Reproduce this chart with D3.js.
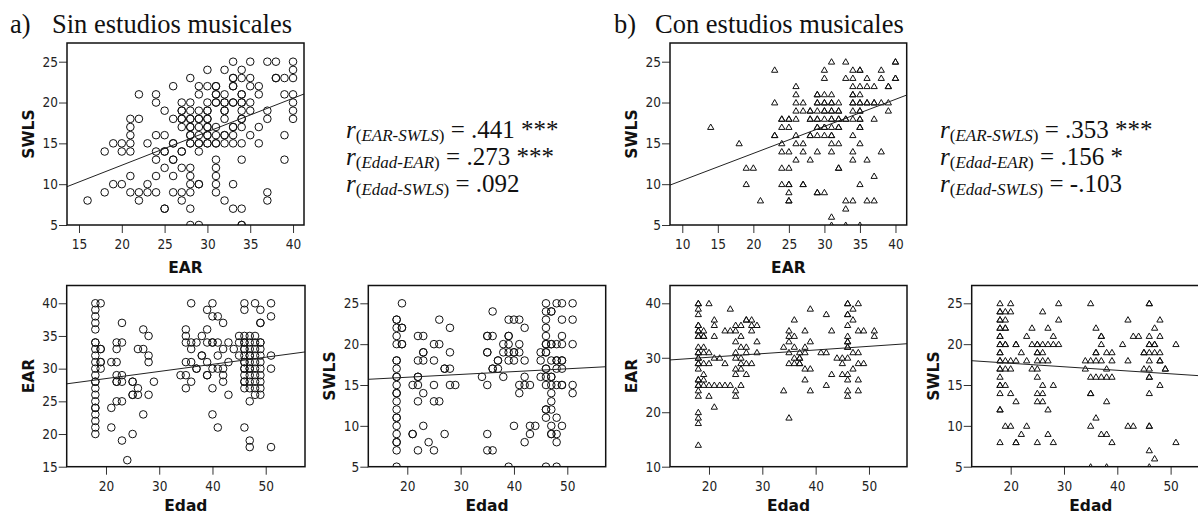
<!DOCTYPE html>
<html lang="es">
<head>
<meta charset="UTF-8">
<title>EAR, SWLS y Edad</title>
<script src="https://d3js.org/d3.v7.min.js"></script>
<style>
  body { margin: 0; background: #fff; }
  .tick text { font-family: "DejaVu Sans Condensed", "DejaVu Sans", sans-serif; font-size: 13.5px; fill: #222; }
  .tick line { stroke: #333; }
  .axlab { font-family: "DejaVu Sans", sans-serif; font-weight: bold; font-size: 15.5px; fill: #111; }
  .serif { font-family: "Liberation Serif", "Times New Roman", serif; fill: #111; }
</style>
</head>
<body>
<div id="chart"></div>
<script>
// puntos agrupados: [valor comun, [lista de valores]]  (repetidos = puntos superpuestos)
// a) Sin estudios: EAR (x) vs SWLS (y), por filas de SWLS
var sinEarSwls = [
  [25, [33,35,37,38,40]],
  [24, [30,32,34,40]],
  [23, [28,33,33,34,35,38,38,39,40]],
  [22, [26,29,30,31,31,33,33,35,36]],
  [21, [22,24,29,31,31,32,34,34,36,39,40]],
  [20, [24,27,28,30,31,31,32,32,33,33,34,34,35,40]],
  [19, [25,27,27,28,29,30,30,32,32,34,35,37,40]],
  [18, [21,22,26,27,27,28,28,29,29,30,30,32,34,34,37,40]],
  [17, [21,27,28,28,29,30,30,31,33,33,34,36]],
  [16, [21,24,25,28,28,29,30,30,31,32,32,33,35,39]],
  [15, [19,20,21,23,26,26,28,28,29,29,30,30,31,31,32,33,34,36]],
  [14, [18,20,21,24,25,25,27,27,29]],
  [13, [24,26,26,31,34,39]],
  [12, [25,27,28,31]],
  [11, [21,24,26,28,31]],
  [10, [19,20,23,28,29,29,31,33]],
  [9,  [18,21,22,23,24,26,27,28,31,37]],
  [8,  [16,22,27,32,37]],
  [7,  [25,25,28,33,34]],
  [5,  [28,29,34,34]]
];
// b) Con estudios: EAR (x) vs SWLS (y), por filas de SWLS
var conEarSwls = [
  [25, [31,33,40,40]],
  [24, [23,30,34,35,35,38]],
  [23, [30,33,34,36,38,40,40]],
  [22, [26,34,35,36,37,39,39]],
  [21, [26,29,29,30,31,34,34,35]],
  [20, [23,26,27,29,29,30,30,31,31,32,34,34,35,35,36,36,37,37,38,39]],
  [19, [26,27,28,28,29,30,30,31,31,32,32,34,35,35,39]],
  [18, [24,24,25,25,26,28,28,29,29,30,31,31,32,32,33,33,34,35,35,37]],
  [17, [14,24,25,29,29,30,30,31,32,32,35,35]],
  [16, [23,23,26,28,28,29,30,31,31,34]],
  [15, [18,24,26,27,31,32,35]],
  [14, [24,25,27,29,31,34,38]],
  [13, [26,28,34,36]],
  [12, [19,20,24,25,32,32]],
  [11, [37]],
  [10, [19,24,25,25,27,27,35]],
  [9,  [25,29,29,30]],
  [8,  [21,25,25,33,34,36,37]],
  [7,  [33]],
  [6,  [31]],
  [5,  [31,33,35]]
];
// Sin estudios: Edad (x) vs EAR (y), por columnas de Edad
var sinEdadEar = [
  [18, [40,39,38,37,36,34,34,33,32,31,30,29,28,28,27,26,25,24,24,23,22,21,20]],
  [19, [40,33,33,31,31,30]],
  [21, [31,24,21]],
  [22, [34,33,31,29,28,28,25]],
  [23, [37,34,29,28,25,19]],
  [24, [16]],
  [25, [28,28,26,26,20]],
  [26, [33,27,26]],
  [27, [36,33,23]],
  [28, [35,32,31,26]],
  [29, [28]],
  [34, [29]],
  [35, [36,35,34,31,29,27]],
  [36, [40,34,33,31,28]],
  [37, [34,30,30]],
  [38, [35,32,32]],
  [39, [39,36,34,31,29,29]],
  [40, [40,38,34,34,30,27,23]],
  [41, [38,34,32,30,21]],
  [42, [37,33,30,29,28]],
  [43, [34,31,26]],
  [44, [33]],
  [45, [35,34,32]],
  [46, [40,39,35,34,34,33,33,32,31,31,30,30,29,28,28,27,21]],
  [47, [35,34,33,32,32,31,30,30,29,28,27,25,19,18]],
  [48, [40,35,34,33,32,31,30,29,28,27,26]],
  [49, [39,37,37,34,34,33,32,31,30,29,28,27,26]],
  [51, [40,38,32,30,18]]
];
// Sin estudios: Edad (x) vs SWLS (y)
var sinEdadSwls = [
  [18, [23,23,22,21,20,18,18,17,16,16,15,14,14,13,12,11,11,10,9,8,8,7,5]],
  [19, [25,22,22,20,20]],
  [21, [15,9,9]],
  [22, [21,18,16,16,15,13,7]],
  [23, [21,19,19,18,14,10]],
  [24, [8]],
  [25, [20,18,15,13,7]],
  [26, [23,20,13]],
  [27, [17,17,9]],
  [28, [22,19,17,15]],
  [29, [15]],
  [34, [16]],
  [35, [21,21,19,19,15,9,7]],
  [36, [24,21,17,17,7]],
  [37, [18,18,17]],
  [38, [20,19,16]],
  [39, [23,21,21,20,19,18,5]],
  [40, [23,19,19,18,10]],
  [41, [23,20,19,15,14]],
  [42, [22,18,16,15,8]],
  [43, [15,10,9]],
  [44, [10]],
  [45, [19,18,16]],
  [46, [25,24,23,22,21,20,20,19,19,17,17,16,15,12,12,11,5]],
  [47, [24,24,20,20,18,16,16,15,14,13,12,10,9,9]],
  [48, [25,20,18,18,17,15,11,9,8,5]],
  [49, [25,23,21,20,18,18,17,15,15,10]],
  [51, [25,23,20,15,14]]
];
// Con estudios: Edad (x) vs EAR (y)
var conEdadEar = [
  [18, [40,40,39,38,36,36,35,35,34,34,32,31,31,30,30,29,29,28,26,26,25,25,24,23,20,19,18,14]],
  [19, [35,34,34,32,31,29,27,26,25]],
  [20, [40,31,29,25,23]],
  [21, [37,36,34,30,25,21]],
  [22, [30,25]],
  [23, [35,29,25]],
  [24, [39,35,25]],
  [25, [36,35,33,31,30,28,27,24,23]],
  [26, [36,34,32,30,29,28,25]],
  [27, [37,37,32,31,29,27]],
  [28, [37,36,35,29]],
  [29, [36,33,31]],
  [34, [32,24]],
  [35, [35,34,33,31,29,19]],
  [36, [37,34,32,30,29]],
  [37, [31,30,30,29,29]],
  [38, [35,32,31,28,26]],
  [39, [39,33,28,24]],
  [41, [31]],
  [42, [38,31,25]],
  [43, [35,27]],
  [44, [30]],
  [45, [30,29,27]],
  [46, [40,40,38,38,36,34,33,33,32,32,30,27,26,24,23]],
  [47, [39,37,31,28]],
  [48, [40,35,31,29,26,24]],
  [49, [35,29]],
  [51, [35,34]]
];
// Con estudios: Edad (x) vs SWLS (y)
var conEdadSwls = [
  [18, [25,24,24,23,23,22,22,21,21,20,20,19,19,18,18,17,17,16,15,15,14,12,12,8]],
  [19, [24,23,22,22,20,20,18,17,15,10]],
  [20, [25,24,18,17,14,10]],
  [21, [20,20,18,13,8,8]],
  [22, [19,9]],
  [23, [21,18,10]],
  [24, [22,20,17]],
  [25, [20,20,19,19,18,17,16,14,13,8]],
  [26, [24,20,19,18,15,14,13]],
  [27, [22,20,18,12,9]],
  [28, [21,20,15,8]],
  [29, [25,23,20]],
  [34, [18,17]],
  [35, [25,18,16,14,14,10,5]],
  [36, [22,19,19,18,16,11]],
  [37, [21,21,20,18,16,9]],
  [38, [19,17,16,13,9,5]],
  [39, [19,18,16,8]],
  [41, [20]],
  [42, [23,18,10]],
  [43, [21,10]],
  [44, [21]],
  [45, [19,19,17]],
  [46, [25,25,21,20,20,19,18,17,16,16,14,10,10,7,5]],
  [47, [22,20,20,19,6]],
  [48, [23,21,19,18,18,15]],
  [49, [17,17]],
  [51, [20,8]]
];

// rectas de regresion: [intercepto, pendiente]
var fitSinEarSwls = [4.12, 0.41];
var fitConEarSwls = [7.15, 0.331];
var fitSinEdadEar = [26.3, 0.109];
var fitSinEdadSwls = [15.26, 0.0345];
var fitConEdadEar = [28.75, 0.067];
var fitConEdadSwls = [18.52, -0.043];

var ticksEar15 = [15, 20, 25, 30, 35, 40];
var ticksEar10 = [10, 15, 20, 25, 30, 35, 40];
var ticksSwls = [5, 10, 15, 20, 25];
var ticksEdad = [20, 30, 40, 50];
var ticksEarSin = [15, 20, 25, 30, 35, 40];
var ticksEarCon = [10, 20, 30, 40];

var titles = [["a)", "Sin estudios musicales"], ["b)", "Con estudios musicales"]];
var corrSin = [["EAR-SWLS", ".441 ***"], ["Edad-EAR", ".273 ***"], ["Edad-SWLS", ".092"]];
var corrCon = [["EAR-SWLS", ".353 ***"], ["Edad-EAR", ".156 *"], ["Edad-SWLS", "-.103"]];

function byRow(rows) { // [y, [x...]]
  var out = [];
  rows.forEach(function(r) { r[1].forEach(function(v) { out.push([v, r[0]]); }); });
  return out;
}
function byCol(cols) { // [x, [y...]]
  var out = [];
  cols.forEach(function(c) { c[1].forEach(function(v) { out.push([c[0], v]); }); });
  return out;
}

var svg = d3.select("#chart").append("svg")
    .attr("width", 1198)
    .attr("height", 515);

svg.append("rect").attr("width", 1198).attr("height", 515).attr("fill", "#fff");

var panels = [
  {id: "a", pts: byRow(sinEarSwls), fit: fitSinEarSwls, mark: "circle",
   box: [67, 304, 43, 225], xd: [13.6, 41.28], yd: [5, 27.29],
   xt: ticksEar15, yt: ticksSwls, xl: "EAR", yl: "SWLS", xlY: 273},
  {id: "b", pts: byRow(conEarSwls), fit: fitConEarSwls, mark: "tri",
   box: [670, 906.7, 43, 225], xd: [8.27, 41.58], yd: [5, 27.29],
   xt: ticksEar10, yt: ticksSwls, xl: "EAR", yl: "SWLS", xlY: 273},
  {id: "c", pts: byCol(sinEdadEar), fit: fitSinEdadEar, mark: "circle",
   box: [66.7, 305, 285.5, 466.7], xd: [12.62, 57.38], yd: [15, 42.72],
   xt: ticksEdad, yt: ticksEarSin, xl: "Edad", yl: "EAR", xlY: 511},
  {id: "d", pts: byCol(sinEdadSwls), fit: fitSinEdadSwls, mark: "circle",
   box: [368.3, 605.7, 285.5, 466.7], xd: [12.69, 57.2], yd: [5, 27.18],
   xt: ticksEdad, yt: ticksSwls, xl: "Edad", yl: "SWLS", xlY: 511},
  {id: "e", pts: byCol(conEdadEar), fit: fitConEdadEar, mark: "tri",
   box: [670, 907, 285.5, 466.7], xd: [12.69, 57.13], yd: [10, 43.27],
   xt: ticksEdad, yt: ticksEarCon, xl: "Edad", yl: "EAR", xlY: 511},
  {id: "f", pts: byCol(conEdadSwls), fit: fitConEdadSwls, mark: "tri",
   box: [971.7, 1209, 285.5, 466.7], xd: [12.69, 57.2], yd: [5, 27.18],
   xt: ticksEdad, yt: ticksSwls, xl: "Edad", yl: "SWLS", xlY: 511}
];

var tri = d3.symbol().type(d3.symbolTriangle).size(17);

panels.forEach(function(p) {
  var L = p.box[0], R = p.box[1], T = p.box[2], B = p.box[3];
  var x = d3.scaleLinear().domain(p.xd).range([L, R]);
  var y = d3.scaleLinear().domain(p.yd).range([B, T]);

  svg.append("clipPath").attr("id", "clip-" + p.id)
    .append("rect").attr("x", L).attr("y", T).attr("width", R - L).attr("height", B - T);

  var g = svg.append("g").attr("clip-path", "url(#clip-" + p.id + ")");

  if (p.mark === "circle") {
    g.selectAll("circle").data(p.pts).enter().append("circle")
      .attr("cx", function(d) { return x(d[0]); })
      .attr("cy", function(d) { return y(d[1]); })
      .attr("r", 3.8)
      .attr("fill", "none")
      .attr("stroke", "#111")
      .attr("stroke-width", 1);
  } else {
    g.selectAll("path.pt").data(p.pts).enter().append("path")
      .attr("class", "pt")
      .attr("d", tri)
      .attr("transform", function(d) { return "translate(" + x(d[0]) + "," + (y(d[1]) + 0.6) + ")"; })
      .attr("fill", "none")
      .attr("stroke", "#111")
      .attr("stroke-width", 1);
  }

  // recta de ajuste
  g.append("line")
    .attr("x1", x(p.xd[0])).attr("y1", y(p.fit[0] + p.fit[1] * p.xd[0]))
    .attr("x2", x(p.xd[1])).attr("y2", y(p.fit[0] + p.fit[1] * p.xd[1]))
    .attr("stroke", "#222").attr("stroke-width", 1);

  // ejes
  var ax = svg.append("g").attr("transform", "translate(0," + B + ")")
    .call(d3.axisBottom(x).tickValues(p.xt).tickSize(8).tickPadding(4));
  ax.select(".domain").remove();
  ax.selectAll("text").attr("dy", "0.9em");

  var ay = svg.append("g").attr("transform", "translate(" + L + ",0)")
    .call(d3.axisLeft(y).tickValues(p.yt).tickSize(8).tickPadding(1));
  ay.select(".domain").remove();

  // marco
  svg.append("rect")
    .attr("x", L).attr("y", T).attr("width", R - L).attr("height", B - T)
    .attr("fill", "none").attr("stroke", "#111").attr("stroke-width", 1.5);

  svg.append("text").attr("class", "axlab")
    .attr("x", (L + Math.min(R, 1198)) / 2 + (R > 1198 ? 6 : 0)).attr("y", p.xlY)
    .attr("text-anchor", "middle").text(p.xl);

  svg.append("text").attr("class", "axlab")
    .attr("transform", "translate(" + (L - 33) + "," + ((T + B) / 2) + ") rotate(-90)")
    .attr("text-anchor", "middle").text(p.yl);
});

// titulos
[[10, 52], [614, 655]].forEach(function(pos, i) {
  svg.append("text").attr("class", "serif").attr("x", pos[0]).attr("y", 33)
    .style("font-size", "26.5px").text(titles[i][0]);
  svg.append("text").attr("class", "serif").attr("x", pos[1]).attr("y", 33)
    .style("font-size", "26.5px").text(titles[i][1]);
});

// coeficientes de correlacion
function corrBlock(rows, x0) {
  rows.forEach(function(r, i) {
    var t = svg.append("text").attr("class", "serif")
      .attr("x", x0).attr("y", 138 + i * 27).style("font-size", "25px");
    t.append("tspan").style("font-style", "italic").text("r");
    t.append("tspan").style("font-size", "17px").attr("dy", 3)
      .text("(");
    t.append("tspan").style("font-size", "17px").style("font-style", "italic")
      .text(r[0]);
    t.append("tspan").style("font-size", "17px").text(")");
    t.append("tspan").attr("dy", -3).text(" = " + r[1]);
  });
}
corrBlock(corrSin, 346);
corrBlock(corrCon, 940);
</script>
</body>
</html>
